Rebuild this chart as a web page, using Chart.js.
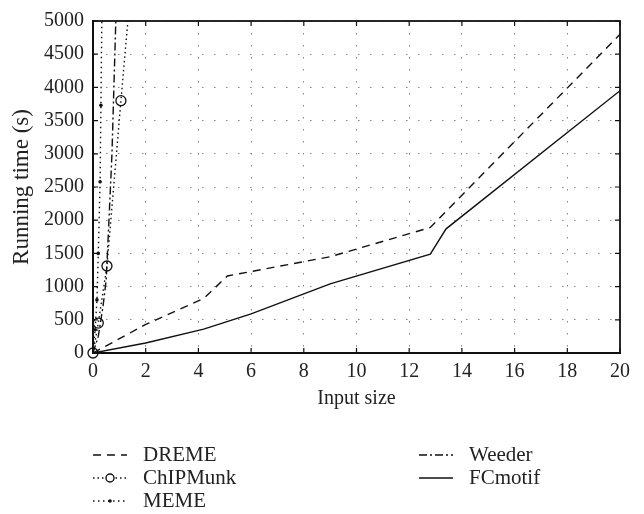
<!DOCTYPE html>
<html>
<head>
<meta charset="utf-8">
<script src="https://cdn.jsdelivr.net/npm/chart.js@4.4.1/dist/chart.umd.min.js"></script>
<style>
  html, body { margin: 0; padding: 0; background: #fff; }
  #wrap { width: 644px; height: 514px; position: relative; }
</style>
</head>
<body>
<div id="wrap"><canvas id="runtime_chart"></canvas></div>
<script>
// ---- data ----
const xTicks = [0, 2, 4, 6, 8, 10, 12, 14, 16, 18, 20];
const yTicks = [0, 500, 1000, 1500, 2000, 2500, 3000, 3500, 4000, 4500, 5000];

const dremeX = [0, 2, 4.2, 5.1, 9, 12.8, 20];
const dremeY = [0, 430, 820, 1160, 1450, 1890, 4800];

const chipmunkX = [0, 0.2, 0.53, 1.06, 1.5];
const chipmunkY = [0, 450, 1310, 3800, 5800];

const memeX = [0, 0.08, 0.15, 0.2, 0.27, 0.3, 0.34];
const memeY = [0, 350, 800, 1500, 2580, 3730, 5200];

const weederX = [0, 0.2, 0.38, 0.5, 0.6, 0.72, 0.88];
const weederY = [0, 250, 700, 1100, 1950, 3000, 5200];

const fcmotifX = [0, 2, 4.2, 6, 9, 12.8, 13.4, 20];
const fcmotifY = [0, 150, 360, 590, 1040, 1490, 1870, 3950];

function pts(xs, ys) {
    return xs.map((x, i) => ({ x: x, y: ys[i] }));
}

const serif = "'Liberation Serif', 'DejaVu Serif', serif";
Chart.defaults.font.family = serif;
Chart.defaults.color = '#222';

// inner tick marks + top/right frame
const framePlugin = {
    id: 'frame',
    afterDatasetsDraw(chart) {
        const ctx = chart.ctx;
        const a = chart.chartArea;
        const xs = chart.scales.x, ys = chart.scales.y;
        ctx.save();
        ctx.strokeStyle = '#111';
        ctx.lineWidth = 1.2;
        ctx.setLineDash([]);
        ctx.beginPath();
        xTicks.forEach(v => {
            const px = xs.getPixelForValue(v);
            ctx.moveTo(px, a.bottom); ctx.lineTo(px, a.bottom - 5);
            ctx.moveTo(px, a.top); ctx.lineTo(px, a.top + 5);
        });
        yTicks.forEach(v => {
            const py = ys.getPixelForValue(v);
            ctx.moveTo(a.left, py); ctx.lineTo(a.left + 5, py);
            ctx.moveTo(a.right, py); ctx.lineTo(a.right - 5, py);
        });
        ctx.stroke();
        ctx.lineWidth = 1.8;
        ctx.strokeRect(a.left, a.top, a.right - a.left, a.bottom - a.top);
        ctx.restore();
    }
};

// two-column legend under the plot
const legendPlugin = {
    id: 'bottomLegend',
    afterDraw(chart) {
        const ctx = chart.ctx;
        const cols = [{ x: 93, tx: 143 }, { x: 419, tx: 469 }];
        const rows = [455, 478, 501];
        const slots = [[0, 0], [0, 1], [0, 2], [1, 0], [1, 1]];
        ctx.save();
        chart.data.datasets.forEach((ds, i) => {
            const c = cols[slots[i][0]];
            const y = rows[slots[i][1]];
            const x0 = c.x, x1 = c.x + 34;
            ctx.strokeStyle = ds.borderColor;
            ctx.lineWidth = ds.borderWidth;
            ctx.setLineDash(ds.borderDash || []);
            ctx.beginPath();
            ctx.moveTo(x0, y); ctx.lineTo(x1, y);
            ctx.stroke();
            ctx.setLineDash([]);
            if (ds.legendMarker === 'circle') {
                ctx.fillStyle = '#fff';
                ctx.beginPath();
                ctx.arc((x0 + x1) / 2, y, 4, 0, Math.PI * 2);
                ctx.fill();
                ctx.stroke();
            } else if (ds.legendMarker === 'dot') {
                ctx.fillStyle = '#111';
                ctx.beginPath();
                ctx.arc((x0 + x1) / 2, y, 1.8, 0, Math.PI * 2);
                ctx.fill();
            }
            ctx.fillStyle = '#222';
            ctx.font = '21px ' + serif;
            ctx.textBaseline = 'middle';
            ctx.fillText(ds.label, c.tx, y);
        });
        ctx.restore();
    }
};

const gridDots = { display: true, color: '#111', width: 2, dash: [1.5, 10.5] };

const ctx = document.getElementById('runtime_chart').getContext('2d');
window.runtimeChart = new Chart(ctx, {
    type: 'line',
    data: {
        datasets: [
            {
                label: 'DREME',
                data: pts(dremeX, dremeY),
                borderColor: '#111',
                borderWidth: 1.4,
                borderDash: [8, 6],
                pointRadius: 0
            },
            {
                label: 'ChIPMunk',
                data: pts(chipmunkX, chipmunkY),
                borderColor: '#111',
                borderWidth: 1.4,
                borderDash: [1.5, 3],
                pointRadius: 5,
                pointBorderWidth: 1.3,
                pointBorderColor: '#111',
                pointBackgroundColor: 'rgba(255,255,255,0)',
                legendMarker: 'circle',
                clip: { left: 10, bottom: 10, top: 0, right: 0 }
            },
            {
                label: 'MEME',
                data: pts(memeX, memeY),
                borderColor: '#111',
                borderWidth: 1.4,
                borderDash: [1.5, 3.5],
                pointRadius: 1.8,
                pointBorderWidth: 0,
                pointBackgroundColor: '#111',
                legendMarker: 'dot'
            },
            {
                label: 'Weeder',
                data: pts(weederX, weederY),
                borderColor: '#111',
                borderWidth: 1.4,
                borderDash: [8, 3, 2, 3],
                pointRadius: 0
            },
            {
                label: 'FCmotif',
                data: pts(fcmotifX, fcmotifY),
                borderColor: '#111',
                borderWidth: 1.4,
                pointRadius: 0
            }
        ]
    },
    options: {
        responsive: true,
        maintainAspectRatio: false,
        animation: false,
        layout: {
            padding: { left: 0, top: 17, right: 24, bottom: 103 }
        },
        scales: {
            x: {
                type: 'linear',
                min: 0,
                max: 20,
                afterBuildTicks: s => { s.ticks = xTicks.map(v => ({ value: v })); },
                afterFit: s => { s.height = 58; },
                ticks: { padding: 7, font: { size: 20 }, color: '#222', maxRotation: 0, callback: v => String(v) },
                grid: { color: '#888', lineWidth: 1, drawTicks: false },
                border: gridDots,
                title: { display: true, text: 'Input size', font: { size: 20 }, color: '#222', padding: { top: 0, bottom: 0 } }
            },
            y: {
                min: 0,
                max: 5000,
                afterBuildTicks: s => { s.ticks = yTicks.map(v => ({ value: v })); },
                afterFit: s => { s.width = 93; },
                ticks: { padding: 9, font: { size: 20 }, color: '#222', callback: v => String(v) },
                grid: { color: '#888', lineWidth: 1, drawTicks: false },
                border: gridDots,
                title: { display: true, text: 'Running time (s)', font: { size: 23 }, color: '#222', padding: { top: 8, bottom: 0 } }
            }
        },
        plugins: {
            legend: { display: false },
            tooltip: { enabled: false }
        }
    },
    plugins: [framePlugin, legendPlugin]
});
</script>
</body>
</html>
